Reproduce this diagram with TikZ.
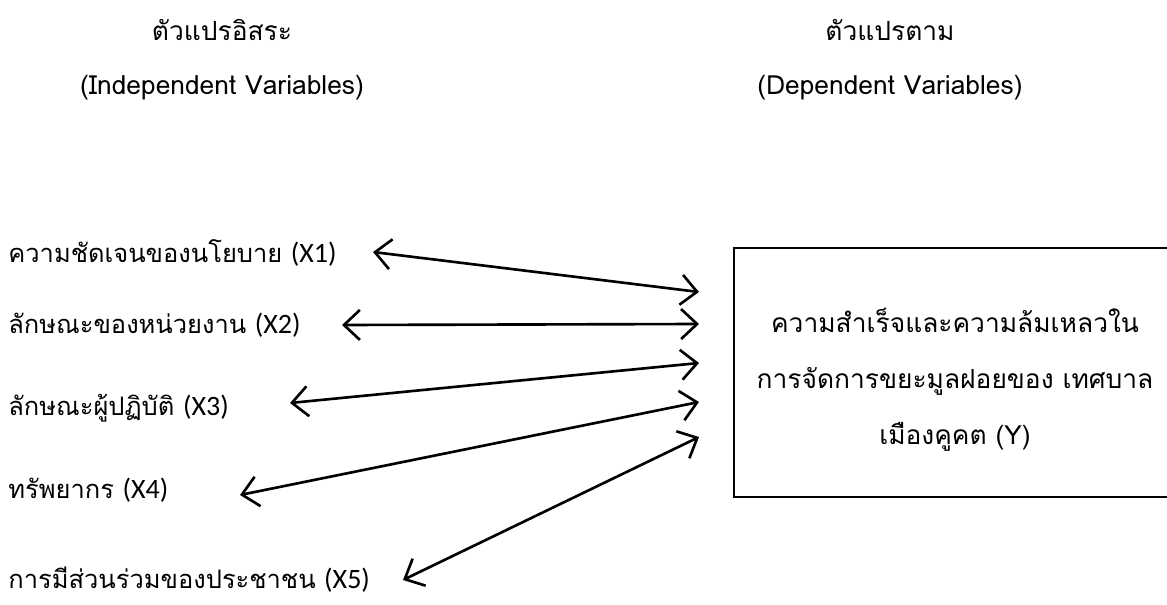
\documentclass[tikz,border=0pt]{standalone}
\usepackage{fontspec}
\setmainfont[Script=Thai]{Loma}
\newfontfamily\latfont[Scale=1.1]{Carlito}
\newcommand{\lat}[1]{{\latfont #1}}
\usepackage{tikz}
\usetikzlibrary{arrows.meta}
\usetikzlibrary{positioning}
\tikzstyle{head} = [inner sep=0pt, font=\fontsize{15}{18}\selectfont]
\tikzstyle{var} = [anchor=west, inner sep=0pt, font=\fontsize{14.5}{18}\selectfont]
\tikzstyle{boxtext} = [align=center, inner sep=0pt, font=\fontsize{15}{32}\selectfont]
\tikzstyle{frame} = [line width=1.4pt]
\tikzstyle{arrow} = [line width=1.5pt,<->,>={Straight Barb[length=3.2mm,width=6mm]}]

\begin{document}
\begin{tikzpicture}
    \useasboundingbox (0,0) rectangle (23.34,12.08);
    % Place nodes
    \node [head] (indep) at (4.44,11.48) {ตัวแปรอิสระ};
    \node [head, below=1.16cm of indep.center, anchor=center] (indepen) {(Independent Variables)};
    \node [head] (dep) at (17.8,11.48) {ตัวแปรตาม};
    \node [head, below=1.16cm of dep.center, anchor=center] (depen) {(Dependent Variables)};
    \node [var] (x1) at (0.16,7.02) {ความชัดเจนของนโยบาย \lat{(X1)}};
    \node [var] (x2) at (0.16,5.58) {ลักษณะของหน่วยงาน \lat{(X2)}};
    \node [var] (x3) at (0.16,3.92) {ลักษณะผู้ปฏิบัติ \lat{(X3)}};
    \node [var] (x4) at (0.16,2.28) {ทรัพยากร \lat{(X4)}};
    \node [var] (x5) at (0.16,0.48) {การมีส่วนร่วมของประชาชน \lat{(X5)}};
    \node [boxtext] (y) at (19.10,4.48) {ความสำเร็จและความล้มเหลวใน\\การจัดการขยะมูลฝอยของ เทศบาล\\เมืองคูคต (Y)};

    % Box round Y, open at the page edge
    \coordinate (ytop) at (14.68,7.12);
    \coordinate (ybot) at (14.68,2.14);
    \coordinate (ytopend) at (23.34,7.12);
    \coordinate (ybotend) at (23.34,2.14);
    \draw [frame] (ytopend) -- (ytop) -- (ybot) -- (ybotend);

    % Arrow ends
    \coordinate (a1) at (7.46,7.04);
    \coordinate (a2) at (6.84,5.58);
    \coordinate (a3) at (5.80,4.02);
    \coordinate (a4) at (4.80,2.18);
    \coordinate (a5) at (8.06,0.48);
    \coordinate (b1) at (13.98,6.24);
    \coordinate (b2) at (13.98,5.60);
    \coordinate (b3) at (13.98,4.82);
    \coordinate (b4) at (13.98,4.04);
    \coordinate (b5) at (13.98,3.34);

    % Draw edges
    \draw [arrow] (a1) -- (b1);
    \draw [arrow] (a2) -- (b2);
    \draw [arrow] (a3) -- (b3);
    \draw [arrow] (a4) -- (b4);
    \draw [arrow] (a5) -- (b5);
\end{tikzpicture}
\end{document}
